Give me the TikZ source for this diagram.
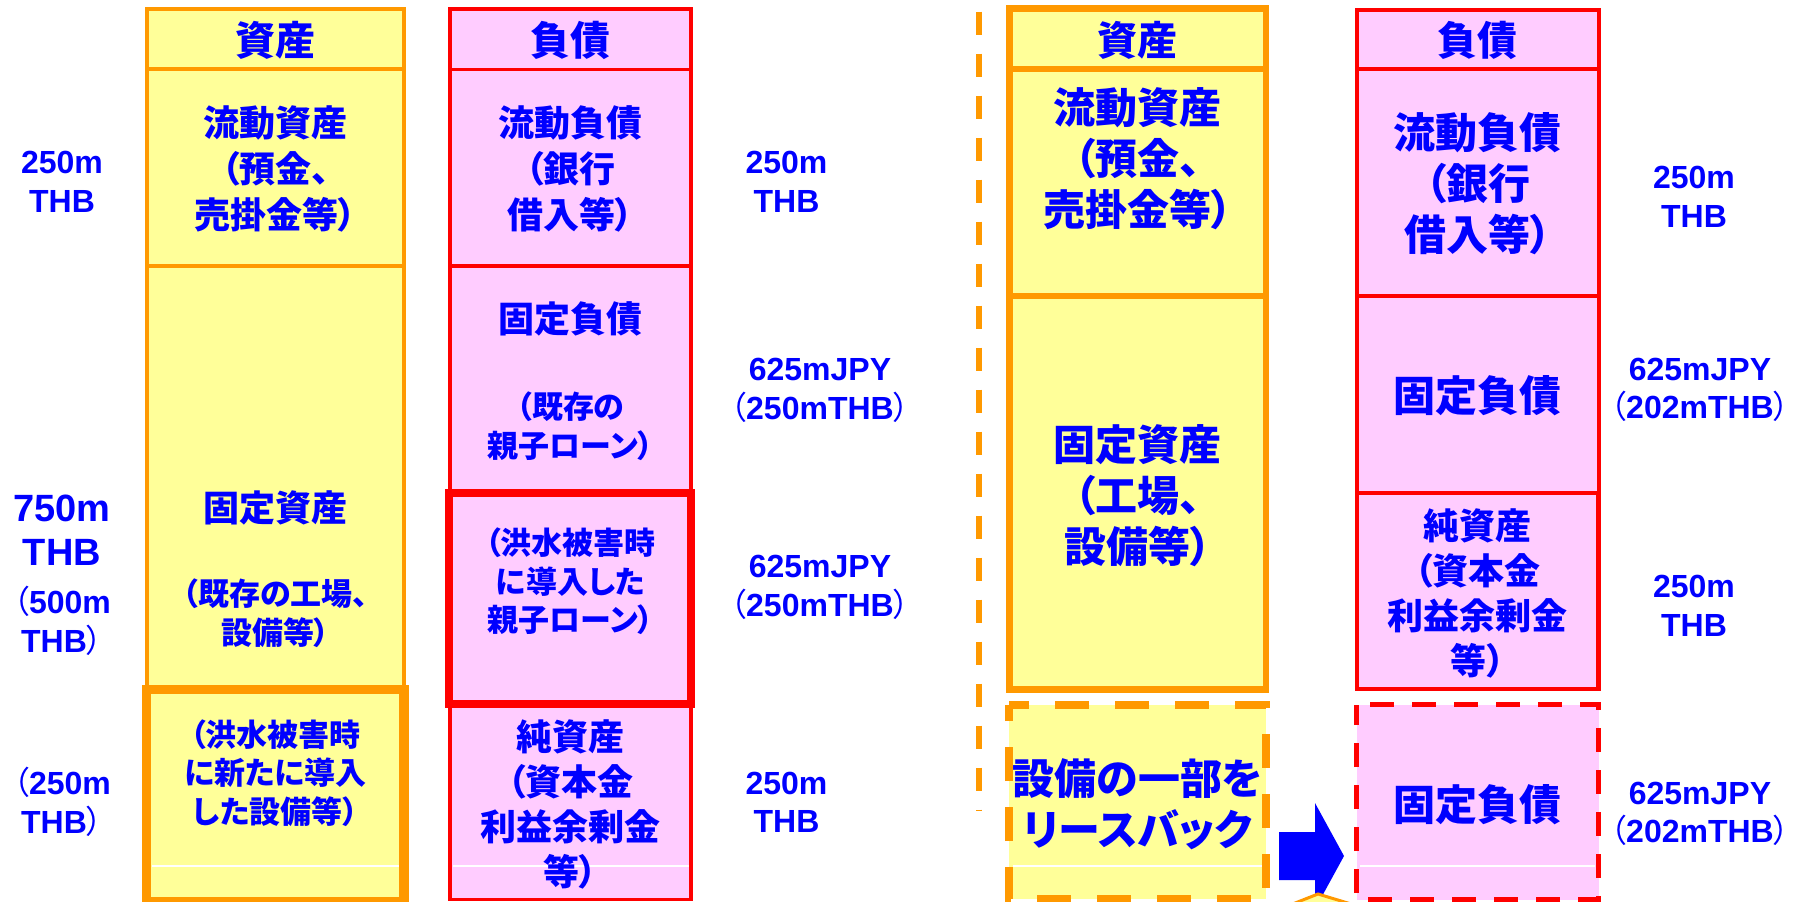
\documentclass[tikz,border=0pt]{standalone}
\usepackage{fontspec}
\setmainfont{Liberation Sans}
\newfontfamily\jp{Noto Sans CJK JP}[RawFeature={+palt}]
\definecolor{yel}{RGB}{255,255,153}
\definecolor{pnk}{RGB}{255,204,255}
\definecolor{org}{RGB}{255,153,0}
\definecolor{rd}{RGB}{255,0,0}
\definecolor{blu}{RGB}{0,0,255}
\newcommand\jpar[1]{{\jp\mdseries #1}}
\begin{document}
\begin{tikzpicture}[x=1pt,y=-1pt,
  abox/.style={fill=yel,draw=org,line width=4pt},
  abox2/.style={fill=yel,draw=org,line width=6.5pt},
  lbox/.style={fill=pnk,draw=rd,line width=3.5pt},
  jt/.style={text=blu,align=center,inner sep=0pt},
  j40/.style={jt,font=\jp\bfseries\fontsize{40}{48}\selectfont},
  j42/.style={jt,font=\jp\bfseries\fontsize{42}{51}\selectfont},
  j36/.style={jt,font=\jp\bfseries\fontsize{36}{46}\selectfont},
  j36n/.style={jt,font=\jp\bfseries\fontsize{36}{45}\selectfont},
  j31/.style={jt,font=\jp\bfseries\fontsize{31}{38.5}\selectfont},
  num/.style={jt,font=\bfseries\fontsize{32}{38.5}\selectfont},
  numbig/.style={jt,font=\bfseries\fontsize{38}{44}\selectfont},
  wl/.style={white,line width=1.2pt}]
\useasboundingbox (0,0) rectangle (1802,902);
\clip (0,0) rectangle (1802,902);
\fill[white] (0,0) rectangle (1802,902);

% ---------- left diagram: assets ----------
\path[abox] (147,9) rectangle (404,69.3);
\path[abox] (147,69.3) rectangle (404,266);
\path[abox] (147,266) rectangle (404,689.5);
\path[fill=yel,draw=org,line width=9.5pt] (146.7,689.5) rectangle (404,901.5);
\draw[wl] (152,866) -- (399,866);

% ---------- left diagram: liabilities ----------
\path[lbox] (450,9) rectangle (691,69.3);
\path[lbox] (450,69.3) rectangle (691,266);
\path[lbox] (450,266) rectangle (691,493);
\path[lbox] (450,703.5) rectangle (691,899.5);
\path[fill=pnk,draw=rd,line width=8pt] (449,493) rectangle (691.3,703.5);
\draw[wl] (453,866) -- (689,866);

% ---------- separator ----------
\draw[org,line width=6pt,dash pattern=on 23.5pt off 18.5pt] (978.7,11.7) -- (978.7,810);

% ---------- right diagram: assets ----------
\path[abox2] (1009.3,8.7) rectangle (1266,69);
\path[abox2] (1009.3,69) rectangle (1266,296);
\path[abox2] (1009.3,296) rectangle (1266,689.5);
\fill[yel] (1009,705) rectangle (1266,899);
\draw[org,line width=7.5pt,dash pattern=on 34pt off 26pt,dash phase=14pt]
  (1009,705) -- (1266,705) -- (1266,899) -- (1009,899) -- cycle;
\draw[wl] (1013,866) -- (1262,866);

% ---------- right diagram: liabilities ----------
\path[lbox,line width=4pt] (1357,9.5) rectangle (1598.7,69.3);
\path[lbox,line width=4pt] (1357,69.3) rectangle (1598.7,296);
\path[lbox,line width=4pt] (1357,296) rectangle (1598.7,493);
\path[lbox,line width=4.5pt] (1357,493) rectangle (1598.7,689);
\fill[pnk] (1356.5,704.5) rectangle (1598.5,899.5);
\draw[rd,line width=5.5pt,dash pattern=on 24pt off 18pt,dash phase=28.5pt]
  (1356.5,704.5) -- (1598.5,704.5) -- (1598.5,899.5) -- (1356.5,899.5) -- cycle;
\draw[wl] (1360,866) -- (1595,866);

% ---------- arrow and partial shape ----------
\fill[blu] (1279,832) -- (1315,832) -- (1315,803) -- (1344,856) -- (1315,909)
  -- (1315,880) -- (1279,880) -- cycle;
\fill[yel] (1285,907) -- (1318,894) -- (1356,905.5) -- (1356,912) -- (1285,912) -- cycle;
\draw[org,line width=3pt] (1285,907) -- (1318,894) -- (1356,905.5);

% ---------- left diagram texts ----------
\node[j40] (hA1) at (275.5,40) {資産};
\node[j40] (hL1) at (570.5,40) {負債};
\node[j36] (ca1) at (275.5,169) {流動資産\\（預金、\\売掛金等）};
\node[j36] (fa1a) at (275.5,508) {固定資産};
\node[j31] (fa1b) at (275.5,613) {（既存の工場、\\設備等）};
\node[j31] (tb1) at (275.5,773) {（洪水被害時\\に新たに導入\\した設備等）};
\node[j36] (cl1) at (570.5,169) {流動負債\\（銀行\\借入等）};
\node[j36] (fl1a) at (570.5,319) {固定負債};
\node[j31] (fl1b) at (570.5,426) {（既存の\\親子ローン）};
\node[j31] (tl1) at (570.5,581.5) {（洪水被害時\\に導入した\\親子ローン）};
\node[j36n] (na1) at (570.5,804) {純資産\\（資本金\\利益余剰金\\等）};

\node[num] (L1) at (62,181.7) {250m\\THB};
\node[numbig] (L2) at (62,530.4) {750m\\THB};
\node[num] (L3) at (62,621) {\jpar{（}500m\\THB\jpar{）}};
\node[num] (L4) at (62,802) {\jpar{（}250m\\THB\jpar{）}};
\node[num] (R1) at (786.5,181.7) {250m\\THB};
\node[num] (R2) at (820,390.4) {625mJPY\\\jpar{（}250mTHB\jpar{）}};
\node[num] (R3) at (820,587.5) {625mJPY\\\jpar{（}250mTHB\jpar{）}};
\node[num] (R4) at (786.5,802.4) {250m\\THB};

% ---------- right diagram texts ----------
\node[j40] (hA2) at (1137.6,40) {資産};
\node[j40] (hL2) at (1477.8,40) {負債};
\node[j42] (ca2) at (1137.6,158.3) {流動資産\\（預金、\\売掛金等）};
\node[j42] (fa2) at (1137.6,496) {固定資産\\（工場、\\設備等）};
\node[j42] (db2) at (1137.6,804.5) {設備の一部を\\リースバック};
\node[j42] (cl2) at (1477.8,183.5) {流動負債\\（銀行\\借入等）};
\node[j42] (fl2) at (1477.8,396) {固定負債};
\node[j36n] (na2) at (1477.8,593.3) {純資産\\（資本金\\利益余剰金\\等）};
\node[j42] (rf2) at (1477.8,805) {固定負債};

\node[num] (S1) at (1694,196.7) {250m\\THB};
\node[num] (S2) at (1700,390) {625mJPY\\\jpar{（}202mTHB\jpar{）}};
\node[num] (S3) at (1694,605.8) {250m\\THB};
\node[num] (S4) at (1700,814) {625mJPY\\\jpar{（}202mTHB\jpar{）}};
\end{tikzpicture}
\end{document}
